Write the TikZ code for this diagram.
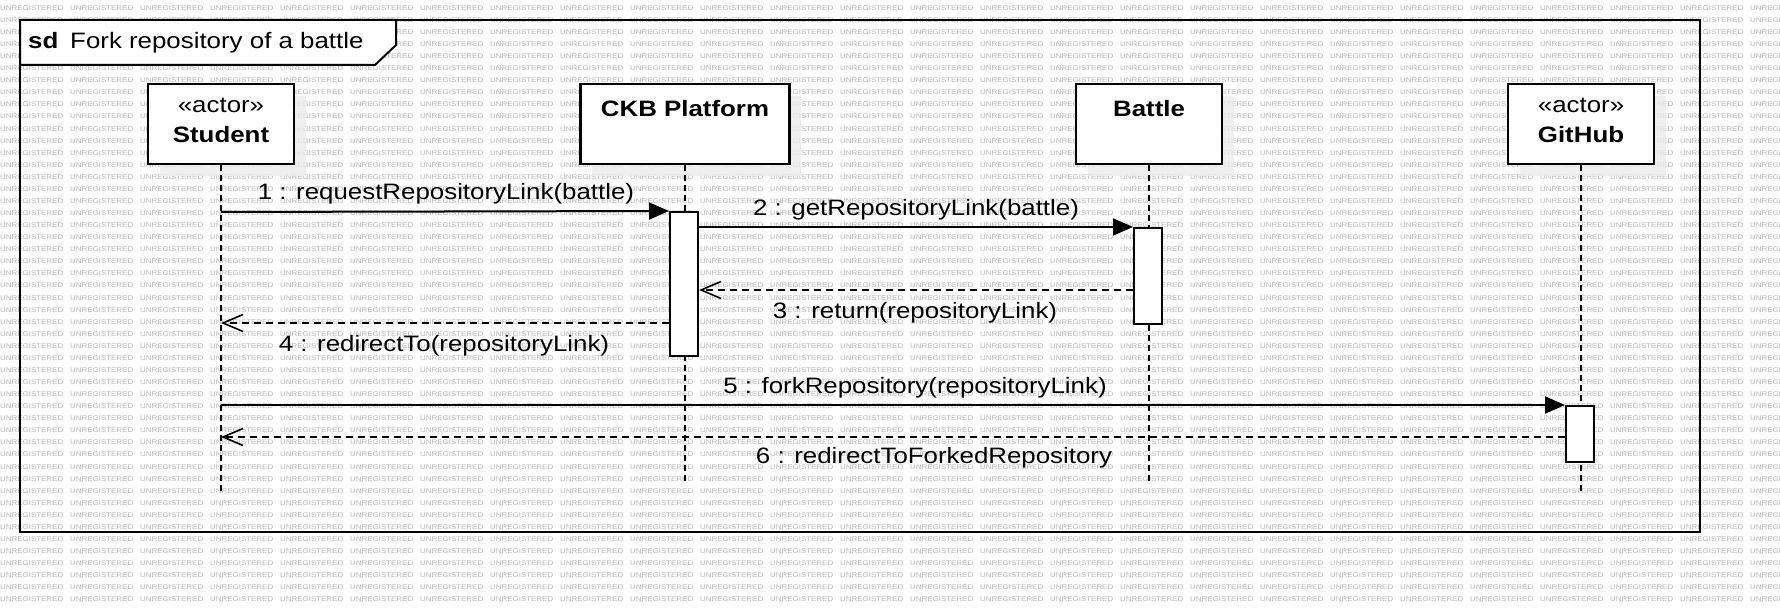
\documentclass[tikz,border=0pt]{standalone}
\usepackage{fontspec}
\setmainfont{Liberation Sans}
\usepackage{graphicx}
\usetikzlibrary{arrows.meta}
\newcommand{\st}[1]{\scalebox{1.16}[1]{#1}}
\tikzset{
  head/.style={draw, line width=2.2pt, fill=white, minimum width=146pt, minimum height=80pt, inner sep=0pt},
  shadowbox/.style={fill=black!8, fill opacity=0.8, draw=none},
  actbar/.style={draw, line width=2pt, fill=white, minimum width=28pt, inner sep=0pt},
  lifeline/.style={line width=2pt, dash pattern=on 6pt off 4pt},
  msg/.style={line width=2pt, -{Triangle[length=20pt,width=17pt]}},
  ret/.style={line width=1.8pt, dash pattern=on 7.5pt off 4.5pt, -{Straight Barb[length=20pt,width=17pt,line width=1.6pt]}},
  lbl/.style={font=\fontsize{22.3}{26}\selectfont, inner sep=0pt, anchor=base},
  wm/.style={font=\fontsize{6.84}{8}\selectfont, text=black!28, inner sep=0pt, anchor=west},
  framebox/.style={draw, line width=2pt, minimum width=1680pt, minimum height=512pt, inner sep=0pt},
}
\begin{document}
\begin{tikzpicture}[x=1pt, y=-1pt]
\useasboundingbox[fill=white] (0,0) rectangle (1780,612);
% watermark
\foreach \j in {0,...,49} {
  \foreach \k in {0,...,25} {
    \node[wm] (wm-\j-\k) at ({70*\k},{8+12.07*\j}) {\st{UNREGISTERED}};
  }
}
% shadows
\fill[shadowbox] (160,96) rectangle (306,176);
\fill[shadowbox] (592,96) rectangle (801,176);
\fill[shadowbox] (1088,96) rectangle (1234,176);
\fill[shadowbox] (1520,96) rectangle (1666,176);
% frame
\node[framebox] (frame) at (860,276) {};
\draw[fill=white, line width=2pt] (20,20) -- (396,20) -- (396,45) -- (375,65) -- (20,65) -- cycle;
\node[lbl, anchor=base west] (title) at (28,49) {\st{\textbf{sd}\hspace{4pt} Fork repository of a battle}};
% heads
\node[head] (stu) at (221,124) {};
\node[head, minimum width=209pt] (ckb) at (685,124) {};
\node[head] (bat) at (1149,124) {};
\node[head] (git) at (1581,124) {};
\node[lbl] (stu-s) at (221,113) {\st{«actor»}};
\node[lbl] (stu-n) at (221,143) {\st{\textbf{Student}}};
\node[lbl] (ckb-n) at (685,117) {\st{\textbf{CKB Platform}}};
\node[lbl] (bat-n) at (1149,117) {\st{\textbf{Battle}}};
\node[lbl] (git-s) at (1581,113) {\st{«actor»}};
\node[lbl] (git-n) at (1581,143) {\st{\textbf{GitHub}}};
% lifeline ends
\coordinate (stu-end) at (221,495);
\coordinate (ckb-end) at (685,484);
\coordinate (bat-end) at (1149,484);
\coordinate (git-end) at (1581,495);
\draw[lifeline] (stu.south) -- (stu-end);
\draw[lifeline] (ckb.south) -- (ckb-end);
\draw[lifeline] (bat.south) -- (bat-end);
\draw[lifeline] (git.south) -- (git-end);
% activation bars
\node[actbar, minimum height=144pt] (act1) at (684,284) {};
\node[actbar, minimum height=96pt] (act2) at (1148,276) {};
\node[actbar, minimum height=56pt] (act3) at (1580,434) {};
% messages
\coordinate (m1) at (221,212);
\draw[msg] (m1) -- (act1.north west);
\node[lbl] (l1) at (446,200) {\st{1 : requestRepositoryLink(battle)}};
\draw[msg] (act1.east |- act2.north) -- (act2.north west);
\node[lbl] (l2) at (916,216) {\st{2 : getRepositoryLink(battle)}};
\draw[ret] ([yshift=-63pt]act2.north west) coordinate (m3) -- (m3 -| act1.east);
\node[lbl] (l3) at (915,319) {\st{3 : return(repositoryLink)}};
\draw[ret] ([yshift=-112pt]act1.north west) coordinate (m4) -- (m4 -| stu-end);
\node[lbl] (l4) at (444,351) {\st{4 : redirectTo(repositoryLink)}};
\draw[msg] (stu-end |- act3.north) -- (act3.north west);
\node[lbl] (l5) at (915,393) {\st{5 : forkRepository(repositoryLink)}};
\draw[ret] ([yshift=-32pt]act3.north west) coordinate (m6) -- (m6 -| stu-end);
\node[lbl] (l6) at (934,463) {\st{6 : redirectToForkedRepository}};
\end{tikzpicture}
\end{document}
